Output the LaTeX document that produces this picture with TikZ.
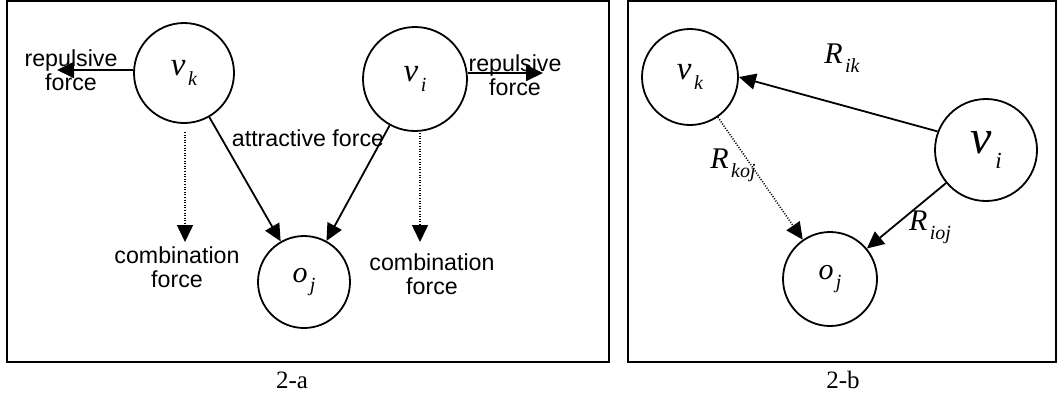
\documentclass[tikz,border=0pt]{standalone}
\usepackage{fontspec}
\setmainfont{Liberation Serif}
\newfontfamily\arialf{Liberation Sans}
\usetikzlibrary{arrows.meta}
\newcommand\symb[4]{{\fontsize{#3pt}{#3pt}\selectfont\textit{#1}\kern0.08em\raisebox{-0.3em}{\fontsize{#4pt}{#4pt}\selectfont\textit{#2}}}}
\begin{document}
\begin{tikzpicture}[x=0.5pt,y=-0.5pt,
  circ/.style={circle,draw,line width=0.9pt,inner sep=0pt},
  lbl/.style={font=\arialf\fontsize{11.6pt}{12pt}\selectfont,align=center,inner sep=0pt},
  arr/.style={line width=0.9pt,-{Triangle[length=8.5pt,width=8pt]}},
  dotarr/.style={line width=0.8pt,dash pattern=on 0.5pt off 0.8pt,-{Triangle[length=8.5pt,width=8pt]}},
  framebox/.style={line width=1.2pt},
  captxt/.style={font=\fontsize{12.5pt}{13pt}\selectfont,inner sep=0pt}]
\useasboundingbox (0,0) rectangle (1058,398);
% frames
\draw[framebox] (7,1) rectangle (609,362);
\draw[framebox] (628,1) rectangle (1056,362);
\node[captxt] (capa) at (292,380) {2-a};
\node[captxt] (capb) at (843,380) {2-b};
% ---- panel a ----
\node[circ,minimum size=50pt] (lvk) at (184,73) {\symb{v}{k}{16.5}{10}};
\node[circ,minimum size=52pt] (lvi) at (415,79) {\symb{v}{i}{16.5}{10}};
\node[circ,minimum size=46pt] (loj) at (304,282) {\symb{o}{j}{15}{10}};
\coordinate (lrep) at (57,70);
\coordinate (rrep) at (543,73);
\draw[arr] (lvk.west |- 0,70) -- (lrep);
\draw[arr] (lvi.east |- 0,73) -- (rrep);
\node[lbl] (trepl) at (71,70) {repulsive\\force};
\node[lbl] (trepr) at (515,75) {repulsive\\force};
\node[lbl] (tattr) at (308,138) {attractive force};
\draw[arr] (lvk) -- (loj);
\draw[arr] (lvi) -- (loj);
\coordinate (ld0) at (185,132);
\coordinate (ld1) at (185,242);
\coordinate (rd0) at (420,133);
\coordinate (rd1) at (420,242);
\draw[dotarr] (ld0) -- (ld1);
\draw[dotarr] (rd0) -- (rd1);
\node[lbl] (tcombl) at (177,267) {combination\\force};
\node[lbl] (tcombr) at (432,274) {combination\\force};
% ---- panel b ----
\node[circ,minimum size=48pt] (rvk) at (690,77) {\symb{v}{k}{16.5}{10}};
\node[circ,minimum size=51pt] (rvi) at (986,150) {\symb{v}{i}{24}{11.5}};
\node[circ,minimum size=47pt] (roj) at (830,279) {\symb{o}{j}{15}{10}};
\draw[arr] (rvi.159) -- (rvk.east);
\draw[arr] (rvi) -- (roj);
\draw[dotarr] (rvk) -- (roj);
\node[inner sep=0pt] (tRik) at (842,58) {\symb{R}{ik}{15}{10}};
\node[inner sep=0pt] (tRioj) at (930,227) {\symb{R}{ioj}{15}{10}};
\node[inner sep=0pt] (tRkoj) at (733,165) {\symb{R}{koj}{15}{10}};
\end{tikzpicture}
\end{document}
